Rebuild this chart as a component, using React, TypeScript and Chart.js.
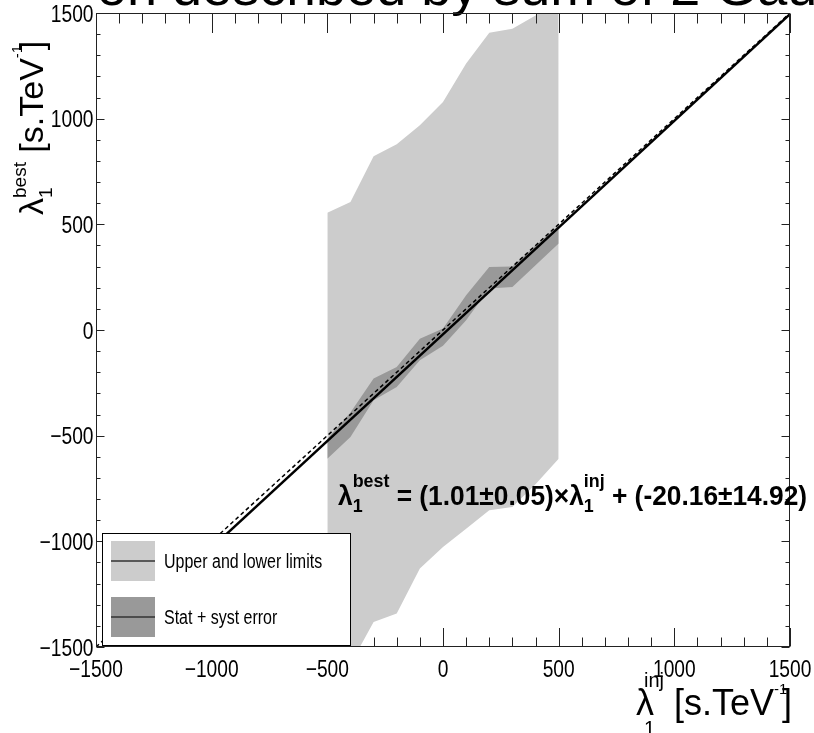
import { useEffect, useRef } from "react";
import { Chart, registerables } from "chart.js";

Chart.register(...registerables);

// ---- data ----
const injected = [-500, -400, -300, -200, -100, 0, 100, 200, 300, 400, 500];
const upperLimit = [555, 606, 822, 879, 969, 1079, 1261, 1407, 1426, 1488, 1580];
const lowerLimit = [-1700, -1581, -1382, -1342, -1129, -1027, -940, -853, -838, -730, -609];
const errUpper = [-515, -390, -230, -175, -41, 7, 164, 298, 301, 400, 495];
const errLower = [-609, -506, -333, -270, -143, -75, 46, 196, 203, 306, 409];
const fitX = [-1500, 1500];
const fitY = [-1535.2, 1494.8];
const diagX = [-1500, 1500];
const diagY = [-1500, 1500];
const majorTicks = [-1500, -1000, -500, 0, 500, 1000, 1500];
const tickLabels = ["\u22121500", "\u22121000", "\u2212500", "0", "500", "1000", "1500"];
const legendLabels = ["Upper and lower limits", "Stat + syst error"];
const titleText = "Injection described by sum of 2 Gaussians";
const slopeText = "(1.01\u00b10.05)";
const offsetText = "(-20.16\u00b114.92)";

const FAMILY = '"Liberation Sans", Arial, Helvetica, sans-serif';
const LIGHT = "#cccccc";
const DARK = "#999999";

type Seg =
  | { t: string; size: number; bold?: boolean; dy?: number; adv?: number }
  | { sub: string; sup: string; size: number; bold?: boolean; subDy: number; supDy: number; adv?: number };

function fnt(size: number, bold?: boolean) {
  return `${bold ? "bold " : ""}${size}px ${FAMILY}`;
}

function segWidth(ctx: CanvasRenderingContext2D, s: Seg, hs: number) {
  if (s.adv !== undefined) return s.adv;
  ctx.font = fnt(s.size, s.bold);
  if ("t" in s) return ctx.measureText(s.t).width * hs;
  return Math.max(ctx.measureText(s.sub).width, ctx.measureText(s.sup).width) * hs;
}

function richWidth(ctx: CanvasRenderingContext2D, segs: Seg[], hs: number) {
  return segs.reduce((acc, s) => acc + segWidth(ctx, s, hs), 0);
}

function drawRich(ctx: CanvasRenderingContext2D, x: number, y: number, segs: Seg[], hs: number) {
  let cx = x;
  for (const s of segs) {
    const w = segWidth(ctx, s, hs);
    ctx.save();
    ctx.font = fnt(s.size, s.bold);
    ctx.textAlign = "left";
    ctx.textBaseline = "alphabetic";
    ctx.translate(cx, y);
    ctx.scale(hs, 1);
    if ("t" in s) ctx.fillText(s.t, 0, s.dy || 0);
    else {
      ctx.fillText(s.sub, 0, s.subDy);
      ctx.fillText(s.sup, 0, s.supDy);
    }
    ctx.restore();
    cx += w;
  }
  return cx - x;
}

function drawScaled(
  ctx: CanvasRenderingContext2D,
  text: string,
  x: number,
  y: number,
  size: number,
  bold: boolean,
  hs: number,
  align: "left" | "center" | "right"
) {
  ctx.save();
  ctx.font = fnt(size, bold);
  const w = ctx.measureText(text).width * hs;
  const x0 = align === "center" ? x - w / 2 : align === "right" ? x - w : x;
  ctx.textAlign = "left";
  ctx.textBaseline = "alphabetic";
  ctx.translate(x0, y);
  ctx.scale(hs, 1);
  ctx.fillText(text, 0, 0);
  ctx.restore();
  return w;
}

const rootStyle = {
  id: "rootStyle",
  afterDatasetsDraw(chart: any) {
    const ctx: CanvasRenderingContext2D = chart.ctx;
    const a = chart.chartArea;
    const xs = chart.scales.x;
    const ys = chart.scales.y;
    ctx.save();
    ctx.fillStyle = "#000";

    // title (cut by the top of the canvas)
    ctx.save();
    ctx.beginPath();
    ctx.rect(a.left, -100, 1000, 120);
    ctx.clip();
    ctx.font = fnt(54, false);
    const pre = ctx.measureText("Injecti").width;
    drawScaled(ctx, titleText, 97 - pre, 5, 54, false, 1, "left");
    ctx.restore();

    // frame
    const L = Math.round(a.left) + 0.5;
    const R = Math.round(a.right) - 0.5;
    const T = Math.round(a.top) + 0.5;
    const B = Math.round(a.bottom) - 0.5;
    ctx.strokeStyle = "#222";
    ctx.lineWidth = 1;
    ctx.strokeRect(L, T, R - L, B - T);

    // ticks (inside the frame, all four sides)
    ctx.beginPath();
    for (let v = -1500; v <= 1500; v += 100) {
      const major = v % 500 === 0;
      const px = Math.round(xs.getPixelForValue(v)) + 0.5;
      const lb = major ? 18.5 : 9;
      const lt = major ? 19.5 : 10;
      ctx.moveTo(px, B);
      ctx.lineTo(px, B - lb);
      ctx.moveTo(px, T);
      ctx.lineTo(px, T + lt);
      const py = Math.round(ys.getPixelForValue(v)) + 0.5;
      const ly = major ? 8 : 4;
      ctx.moveTo(L, py);
      ctx.lineTo(L + ly, py);
      ctx.moveTo(R, py);
      ctx.lineTo(R - ly, py);
    }
    ctx.stroke();

    // tick labels
    majorTicks.forEach((v, i) => {
      drawScaled(ctx, tickLabels[i], xs.getPixelForValue(v), a.bottom + 30, 24, false, 0.8, "center");
      drawScaled(ctx, tickLabels[i], a.left - 2.5, ys.getPixelForValue(v) + 8.7, 24, false, 0.8, "right");
    });

    // x title
    const xTitle: Seg[] = [
      { t: "\u03bb", size: 36, adv: 8 },
      { sub: "1", sup: "inj", size: 20, subDy: 20, supDy: -28 },
      { t: " [s.TeV", size: 36 },
      { sub: "", sup: "-1", size: 15, subDy: 0, supDy: -21, adv: 8 },
      { t: "]", size: 36 },
    ];
    const xw = richWidth(ctx, xTitle, 1);
    ctx.font = fnt(36, false);
    const bw = ctx.measureText("]").width;
    drawRich(ctx, a.right + 2 - (xw - segWidth(ctx, xTitle[4], 1) + bw), 715, xTitle, 1);

    // y title (rotated, reads upwards)
    const yTitle: Seg[] = [
      { t: "\u03bb", size: 34 },
      { sub: "1", sup: "best", size: 19, subDy: 9, supDy: -17 },
      { t: " [s.TeV", size: 34 },
      { sub: "", sup: "-1", size: 15, subDy: 0, supDy: -21, adv: 8 },
      { t: "]", size: 34 },
    ];
    ctx.save();
    ctx.translate(43, 215);
    ctx.rotate(-Math.PI / 2);
    drawRich(ctx, 0, 0, yTitle, 1);
    ctx.restore();

    // fit formula
    const formula: Seg[] = [
      { t: "\u03bb", size: 28, bold: true },
      { sub: "1", sup: "best", size: 19, bold: true, subDy: 7, supDy: -18 },
      { t: " = " + slopeText + "\u00d7\u03bb", size: 28, bold: true },
      { sub: "1", sup: "inj", size: 19, bold: true, subDy: 7, supDy: -18 },
      { t: " + " + offsetText, size: 28, bold: true },
    ];
    drawRich(ctx, 338, 505, formula, 0.94);

    // legend
    const lx0 = a.left + 6;
    const ly0 = a.bottom - 114;
    const lw = 248;
    const lh = 112;
    ctx.fillStyle = "#fff";
    ctx.fillRect(lx0, ly0, lw, lh);
    ctx.strokeStyle = "#000";
    ctx.lineWidth = 1;
    ctx.strokeRect(Math.round(lx0) + 0.5, Math.round(ly0) + 0.5, lw, lh);
    legendLabels.forEach((lab, i) => {
      const cy = ly0 + 28 + i * 56;
      ctx.fillStyle = i === 0 ? LIGHT : DARK;
      ctx.fillRect(lx0 + 9, cy - 20, 44, 40);
      ctx.strokeStyle = "#333";
      ctx.lineWidth = 1.5;
      ctx.beginPath();
      ctx.moveTo(lx0 + 9, cy);
      ctx.lineTo(lx0 + 53, cy);
      ctx.stroke();
      ctx.fillStyle = "#000";
      drawScaled(ctx, lab, lx0 + 62, cy + 7, 19.5, false, 0.82, "left");
    });

    ctx.restore();
  },
};

export default function App() {
  const ref = useRef<HTMLCanvasElement>(null);
  useEffect(() => {
    const canvas = ref.current!;
    const pts = (xs: number[], ys: number[]) => xs.map((x, i) => ({ x, y: ys[i] }));
    const chart = new Chart(canvas, {
      type: "line",
      data: {
        datasets: [
          {
            label: "fit",
            data: pts(fitX, fitY),
            borderColor: "#000",
            borderWidth: 2.5,
            pointRadius: 0,
            fill: false,
            tension: 0,
          },
          {
            label: "diag",
            data: pts(diagX, diagY),
            borderColor: "#000",
            borderWidth: 1.5,
            borderDash: [4, 3],
            pointRadius: 0,
            fill: false,
            tension: 0,
          },
          {
            label: legendLabels[1],
            data: pts(injected, errUpper),
            borderWidth: 0,
            borderColor: "rgba(0,0,0,0)",
            backgroundColor: DARK,
            pointRadius: 0,
            fill: 3,
            tension: 0,
          },
          {
            label: "errLower",
            data: pts(injected, errLower),
            borderWidth: 0,
            borderColor: "rgba(0,0,0,0)",
            pointRadius: 0,
            fill: false,
            tension: 0,
          },
          {
            label: legendLabels[0],
            data: pts(injected, upperLimit),
            borderWidth: 0,
            borderColor: "rgba(0,0,0,0)",
            backgroundColor: LIGHT,
            pointRadius: 0,
            fill: 5,
            tension: 0,
          },
          {
            label: "lowerLimit",
            data: pts(injected, lowerLimit),
            borderWidth: 0,
            borderColor: "rgba(0,0,0,0)",
            pointRadius: 0,
            fill: false,
            tension: 0,
          },
        ],
      } as any,
      options: {
        animation: false,
        responsive: false,
        devicePixelRatio: 1,
        events: [],
        layout: { padding: { left: 96, top: 13, right: 24, bottom: 86 } },
        scales: {
          x: { type: "linear", min: -1500, max: 1500, display: false },
          y: { type: "linear", min: -1500, max: 1500, display: false },
        },
        plugins: {
          legend: { display: false },
          tooltip: { enabled: false },
          title: { display: false },
        },
      } as any,
      plugins: [rootStyle],
    });
    return () => chart.destroy();
  }, []);
  return (
    <div style={{ position: "absolute", left: 0, top: 0, width: 814, height: 733, background: "#fff" }}>
      <canvas ref={ref} width={814} height={733} style={{ display: "block", width: 814, height: 733 }} />
    </div>
  );
}
